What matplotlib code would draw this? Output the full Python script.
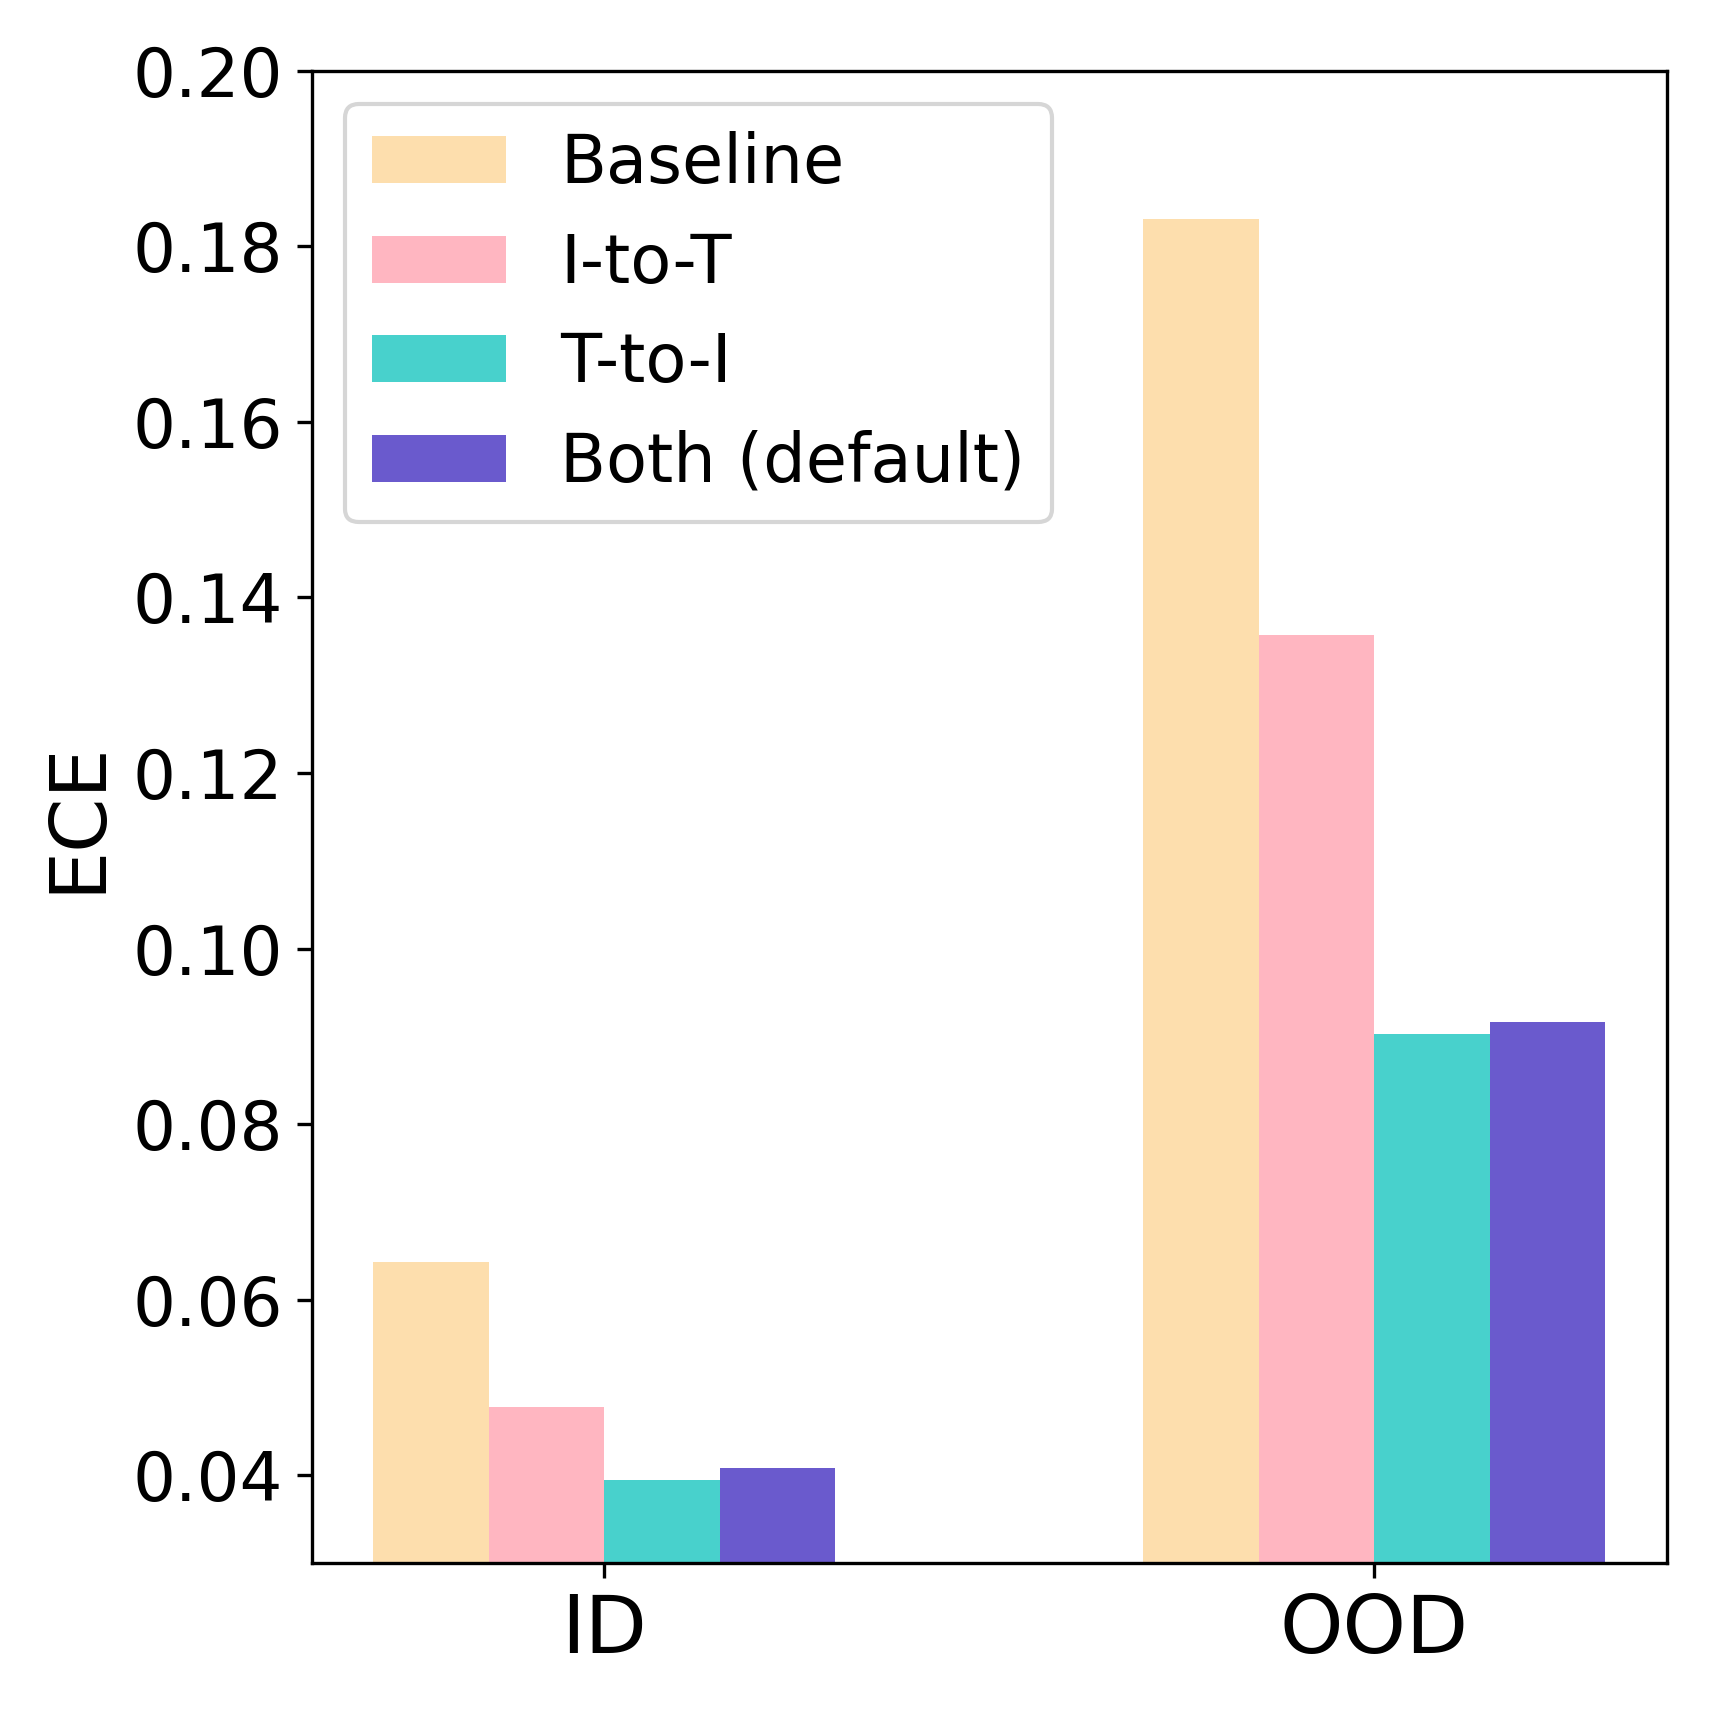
import numpy as np
import matplotlib
matplotlib.use('Agg')
import matplotlib.pyplot as plt

# datos
grupos = ['ID', 'OOD']
metodos = ['Baseline', 'I-to-T', 'T-to-I', 'Both (default)']
ece_baseline = [0.0643, 0.1831]
ece_i_to_t = [0.0478, 0.1357]
ece_t_to_i = [0.0395, 0.0903]
ece_both = [0.0409, 0.0916]
colores = ['#FDDEAD', '#FFB6C1', '#48D1CC', '#6A5ACD']

series = [ece_baseline, ece_i_to_t, ece_t_to_i, ece_both]
x = np.arange(len(grupos))
ancho = 0.15

fig = plt.figure(figsize=(5.7, 5.7), dpi=300)
ax = fig.add_axes([0.1823, 0.0858, 0.9746 - 0.1823, 0.9587 - 0.0858])

for i, (vals, nombre, c) in enumerate(zip(series, metodos, colores)):
    ax.bar(x + (i - 1.5) * ancho, vals, ancho, color=c, label=nombre)

ax.set_ylim(0.03, 0.20)
ax.set_yticks([0.04, 0.06, 0.08, 0.10, 0.12, 0.14, 0.16, 0.18, 0.20])
ax.set_xticks(x)
ax.set_xticklabels(grupos, fontsize=19.4)
ax.tick_params(axis='y', labelsize=16.2)
ax.set_ylabel('ECE', fontsize=18.7)
ax.legend(loc='upper left', fontsize=16.1)

fig.savefig('out.png', dpi=300)
